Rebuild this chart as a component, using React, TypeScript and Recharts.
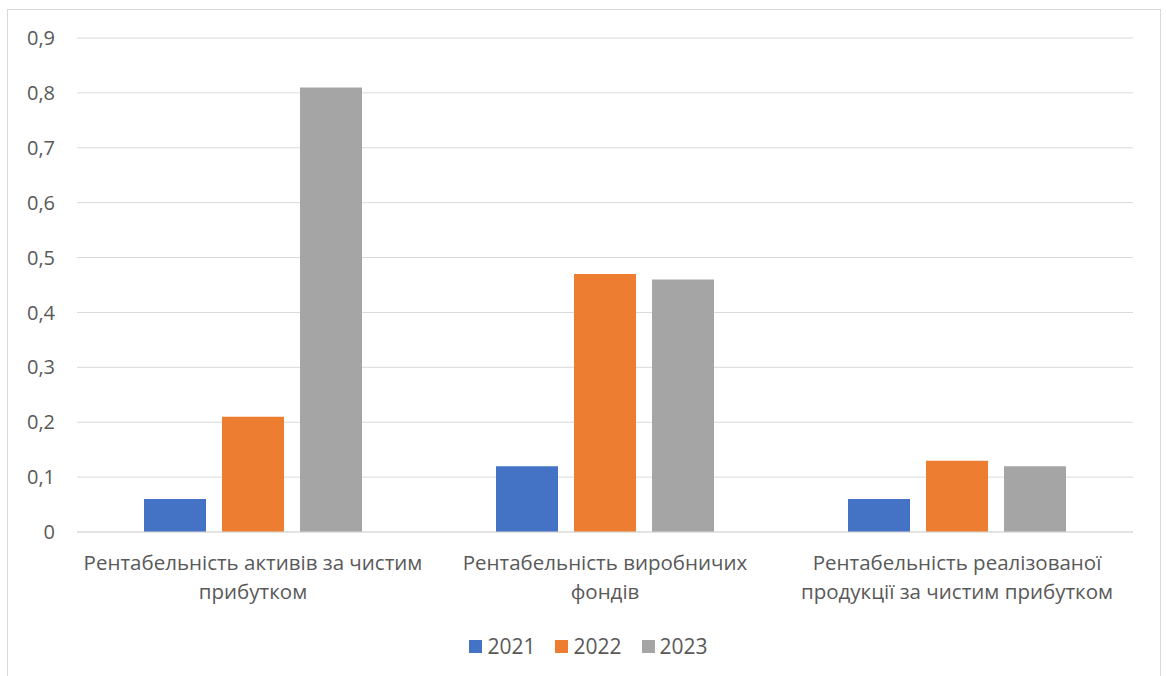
import { BarChart, Bar, XAxis, YAxis, CartesianGrid, Legend } from 'recharts';

const categories = [
  'Рентабельність активів за чистим\nприбутком',
  'Рентабельність виробничих\nфондів',
  'Рентабельність реалізованої\nпродукції за чистим прибутком',
];
const series2021 = [0.06, 0.12, 0.06];
const series2022 = [0.21, 0.47, 0.13];
const series2023 = [0.81, 0.46, 0.12];
const yTicks = [0, 0.1, 0.2, 0.3, 0.4, 0.5, 0.6, 0.7, 0.8, 0.9];

const seriesMeta = [
  { key: 'y2021', name: '2021', color: '#4472c4' },
  { key: 'y2022', name: '2022', color: '#ed7d31' },
  { key: 'y2023', name: '2023', color: '#a5a5a5' },
];

const data = categories.map((c, i) => ({
  category: c,
  y2021: series2021[i],
  y2022: series2022[i],
  y2023: series2023[i],
}));

const FONT = '"Open Sans", "Noto Sans", sans-serif';
const TEXT = '#595959';

const fmt = (v: number) => (v === 0 ? '0' : v.toFixed(1).replace('.', ','));

const CategoryTick = ({ x, y, payload }: { x?: number; y?: number; payload?: { value: string } }) => {
  const lines = (payload?.value ?? '').split('\n');
  return (
    <text x={x} y={y} textAnchor="middle" fill={TEXT} fontSize={20.5} fontFamily={FONT}>
      {lines.map((l, i) => (
        <tspan key={i} x={x} dy={i === 0 ? 30 : 29}>
          {l}
        </tspan>
      ))}
    </text>
  );
};

const LegendContent = () => (
  <div
    style={{
      display: 'flex',
      justifyContent: 'center',
      gap: 20,
      paddingLeft: 36,
      fontFamily: FONT,
      fontSize: 21,
      color: TEXT,
    }}
  >
    {seriesMeta.map((s) => (
      <div key={s.key} style={{ display: 'flex', alignItems: 'center', gap: 5 }}>
        <span style={{ width: 13, height: 13, background: s.color, display: 'inline-block' }} />
        <span>{s.name}</span>
      </div>
    ))}
  </div>
);

export default function App() {
  return (
    <div
      style={{
        position: 'absolute',
        left: 7,
        top: 9,
        width: 1152,
        height: 680,
        border: '1px solid #d9d9d9',
        background: '#fff',
      }}
    >
      <BarChart
        width={1152}
        height={666}
        data={data}
        margin={{ top: 28, right: 27, bottom: 0, left: 0 }}
        barGap={16}
        barCategoryGap={67}
      >
        <CartesianGrid vertical={false} stroke="#d9d9d9" />
        <XAxis
          dataKey="category"
          tick={<CategoryTick />}
          tickLine={false}
          axisLine={{ stroke: '#d9d9d9' }}
          height={116}
          interval={0}
        />
        <YAxis
          domain={[0, 0.9]}
          ticks={yTicks}
          tickFormatter={fmt}
          width={69}
          tickLine={false}
          axisLine={false}
          tickSize={0}
          tickMargin={22}
          tick={{ fill: TEXT, fontSize: 20, fontFamily: FONT }}
        />
        <Legend verticalAlign="bottom" content={<LegendContent />} wrapperStyle={{ bottom: 16 }} />
        {seriesMeta.map((s) => (
          <Bar key={s.key} dataKey={s.key} name={s.name} fill={s.color} isAnimationActive={false} />
        ))}
      </BarChart>
    </div>
  );
}
